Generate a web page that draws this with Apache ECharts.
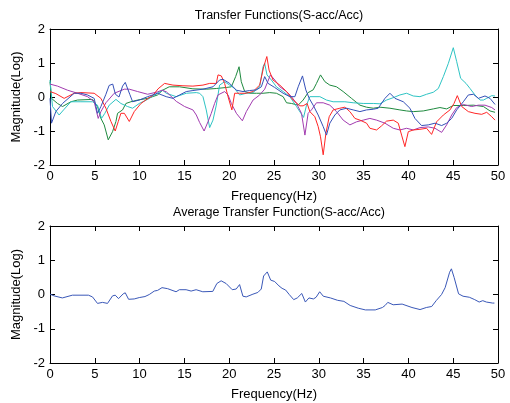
<!DOCTYPE html>
<html><head><meta charset="utf-8">
<script src="https://cdn.jsdelivr.net/npm/echarts@6/dist/echarts.min.js"></script>
<style>html,body{margin:0;padding:0;background:#fff}#c{width:510px;height:403px}</style>
</head><body><div id="c"></div>
<script>
var xTicks = [0,5,10,15,20,25,30,35,40,45,50];
var yTicks = [-2,-1,0,1,2];
var topTitle = 'Transfer Functions(S-acc/Acc)';
var bottomTitle = 'Average Transfer Function(S-acc/Acc)';
var xLabel = 'Frequency(Hz)';
var yLabel = 'Magnitude(Log)';

var blueTF = [[0,-0.04],[0.17,-0.77],[0.65,-0.43],[1.4,-0.19],[2.7,0.11],[3.45,0.11],[4.19,0.06],[4.93,-0.04],[5.3,-0.48],[5.68,-0.28],[6.24,0.08],[6.6,0.34],[7.0,0.38],[7.3,0.08],[7.7,0.0],[8.1,0.32],[8.4,0.43],[8.6,0.4],[8.9,0.08],[9.22,-0.14],[9.96,-0.09],[10.9,0.01],[12.0,0.11],[12.97,0.01],[13.72,-0.04],[14.46,0.06],[15.21,0.16],[15.95,0.19],[17.07,0.23],[18.19,0.3],[18.93,0.5],[19.31,0.52],[20.05,0.4],[20.8,0.2],[21.54,0.16],[22.29,0.19],[23.03,0.21],[23.59,0.3],[23.96,0.6],[24.34,0.4],[25.08,0.28],[25.27,0.23],[26.02,0.11],[26.77,0.01],[27.33,0.01],[27.7,0.3],[28.18,0.62],[28.55,0.21],[28.93,-0.04],[29.37,-0.24],[29.93,-0.53],[30.49,-0.87],[30.86,-1.12],[31.23,-0.77],[31.79,-0.53],[32.35,-0.38],[33.1,-0.33],[33.84,-0.38],[34.59,-0.43],[35.33,-0.38],[36.08,-0.36],[36.63,-0.33],[37.38,-0.04],[37.94,0.11],[38.5,-0.04],[39.43,-0.14],[40.17,-0.33],[40.73,-0.63],[41.47,-0.84],[42.22,-0.82],[42.97,-0.77],[43.71,-0.84],[44.27,-0.77],[44.83,-0.63],[45.39,-0.38],[46.13,-0.14],[46.69,0.06],[47.25,0.08],[47.81,-0.04],[48.55,0.03],[49.11,-0.04],[49.67,-0.22]];
var redTF = [[0,0.16],[0.65,0.1],[1.58,-0.04],[2.7,0.11],[3.45,0.13],[4.93,0.11],[5.68,-0.04],[6.24,-0.33],[6.8,-0.72],[7.28,-1.0],[7.62,-0.72],[7.91,-0.48],[8.3,-0.48],[8.85,-0.72],[9.4,-0.43],[10.15,-0.19],[10.9,-0.05],[11.5,0.05],[12.06,0.24],[12.79,0.4],[13.72,0.35],[14.84,0.33],[15.95,0.32],[17.07,0.35],[17.82,0.4],[18.56,0.4],[18.75,0.65],[19.12,0.62],[19.49,0.4],[19.87,0.01],[20.3,-0.38],[20.61,0.11],[21.17,0.11],[21.91,0.11],[22.66,0.16],[23.4,0.35],[23.85,0.89],[24.2,1.19],[24.45,0.79],[24.89,0.5],[25.65,0.35],[26.4,0.16],[27.14,-0.09],[27.88,-0.26],[28.25,-0.26],[28.7,-0.19],[29,-0.43],[29.56,-0.58],[29.93,-0.87],[30.19,-1.17],[30.49,-1.7],[30.79,-1.07],[31.16,-0.58],[31.6,-0.38],[32.35,-0.33],[32.91,-0.3],[33.47,-0.43],[34.03,-0.63],[34.59,-0.68],[35.33,-0.77],[35.7,-0.92],[36.45,-0.97],[37.0,-0.85],[37.56,-0.71],[38.31,-0.68],[38.87,-0.77],[39.24,-1.12],[39.61,-1.46],[39.99,-1.02],[40.54,-0.97],[41.29,-0.95],[42.03,-0.92],[42.59,-1.1],[43.15,-0.73],[43.9,-0.53],[44.64,-0.38],[45.09,-0.19],[45.46,0.04],[45.95,-0.28],[46.69,-0.43],[47.43,-0.48],[48.18,-0.51],[48.74,-0.45],[49.3,-0.58],[49.67,-0.68]];
var greenTF = [[0,0.45],[0.17,-0.04],[0.84,-0.19],[1.4,-0.28],[2.33,-0.14],[3.07,-0.09],[4.75,-0.07],[5.3,-0.28],[5.68,-0.63],[6.05,-0.82],[6.5,-1.26],[6.98,-1.02],[7.36,-0.72],[7.54,-0.48],[8.1,-0.38],[8.47,-0.19],[9.03,-0.14],[9.78,-0.09],[10.9,-0.04],[12.0,0.06],[12.57,0.2],[13.3,0.3],[14.46,0.3],[15.95,0.24],[17.44,0.23],[18.56,0.25],[19.68,0.28],[20.24,0.3],[20.72,0.6],[21.1,0.89],[21.35,0.45],[21.73,0.16],[22.29,0.11],[23.03,0.11],[23.78,0.11],[24.52,0.13],[25.27,0.11],[26.02,0.01],[26.4,-0.17],[26.95,-0.19],[27.7,-0.24],[28.25,-0.09],[28.81,0.13],[29.37,0.21],[29.74,0.4],[30.19,0.65],[30.68,0.45],[31.23,0.35],[31.98,0.3],[32.72,0.16],[33.65,-0.04],[34.59,-0.24],[35.33,-0.3],[36.08,-0.33],[36.82,-0.3],[37.94,-0.33],[39.05,-0.38],[39.8,-0.41],[40.54,-0.43],[41.66,-0.41],[42.78,-0.35],[43.52,-0.31],[44.27,-0.35],[45.01,-0.25],[46.13,-0.25],[47.25,-0.24],[48.37,-0.28],[49.11,-0.41],[49.67,-0.45]];
var cyanTF = [[0,0.5],[0.28,-0.28],[1.02,-0.53],[1.58,-0.36],[2.33,-0.14],[3.45,-0.14],[4.75,-0.14],[5.3,-0.24],[5.75,-0.63],[6.12,-0.48],[6.61,-0.24],[7.36,-0.07],[7.91,-0.19],[8.66,-0.28],[9.22,-0.33],[9.96,-0.19],[10.9,-0.07],[12.0,0.11],[12.57,0.2],[12.97,0.11],[14.09,0.01],[15.21,0.11],[16.33,0.13],[16.7,0.11],[17.07,0.01],[17.44,-0.38],[17.82,-0.9],[18.19,-0.68],[18.56,-0.24],[18.93,0.35],[19.49,0.45],[20.05,0.35],[20.61,0.25],[21.17,0.06],[21.91,0.11],[22.66,0.13],[23.4,0.3],[23.78,0.89],[23.96,0.99],[24.22,0.65],[24.71,0.5],[25.27,0.3],[26.02,0.16],[26.77,0.01],[27.51,-0.28],[28.3,-0.6],[28.63,-0.24],[29,0.01],[30.12,0.01],[30.86,-0.09],[31.6,-0.14],[32.91,-0.14],[33.84,-0.17],[34.96,-0.19],[36.08,-0.19],[36.82,-0.2],[37.56,-0.09],[38.31,-0.02],[39.05,0.06],[39.8,0.11],[40.54,0.03],[41.29,0.01],[42.03,0.08],[42.78,0.14],[43.34,0.25],[43.9,0.6],[44.46,0.99],[45.01,1.45],[45.39,1.04],[45.83,0.55],[46.43,0.4],[46.88,0.25],[47.43,0.06],[47.99,-0.09],[48.37,-0.09],[48.74,-0.04],[49.3,0.04],[49.67,0.03]];
var purpleTF = [[0,0.38],[0.84,0.32],[1.96,0.2],[3.07,0.11],[4.19,0.01],[4.93,-0.14],[5.38,-0.63],[5.68,-0.43],[6.24,-0.17],[7.17,0.11],[8.29,0.23],[8.85,0.23],[9.78,0.16],[10.9,0.08],[12.0,0.15],[12.5,0.2],[13,0.15],[14.1,-0.13],[15.02,-0.28],[15.95,-0.38],[16.33,-0.53],[16.7,-0.75],[17.2,-1.0],[17.63,-0.73],[18.0,-0.48],[18.37,-0.19],[18.75,0.06],[19.49,0.16],[19.87,0.06],[20.24,-0.19],[20.8,-0.48],[21.47,-0.7],[21.91,-0.43],[22.66,-0.09],[23.4,0.06],[23.96,0.23],[24.3,0.45],[24.6,0.65],[25.09,0.5],[25.65,0.3],[26.4,0.16],[26.95,0.01],[27.51,-0.19],[28.07,-0.48],[28.45,-1.12],[28.81,-0.48],[29.18,-0.38],[29.74,-0.17],[30.49,-0.17],[31.23,-0.24],[31.98,-0.43],[32.72,-0.68],[33.47,-0.82],[34.21,-0.73],[34.96,-0.68],[35.7,-0.63],[36.45,-0.68],[37.38,-0.77],[38.31,-0.92],[39.05,-0.97],[39.8,-0.92],[40.54,-0.97],[41.29,-0.9],[42.22,-0.88],[42.97,-0.92],[43.71,-1.04],[44.27,-0.82],[44.83,-0.53],[45.39,-0.31],[46.13,-0.22],[47.06,-0.28],[47.81,-0.24],[48.55,-0.24],[49.3,-0.31],[49.67,-0.38]];
var avgTF = [[0,0.01],[0.45,-0.04],[1.38,-0.1],[2.5,-0.02],[4.29,-0.02],[4.74,-0.07],[5.3,-0.26],[5.86,-0.23],[6.42,-0.26],[6.98,-0.04],[7.28,-0.02],[7.65,-0.12],[8.17,0.02],[8.4,0.05],[8.77,-0.14],[9.4,-0.13],[9.96,-0.09],[10.6,-0.06],[11.08,0],[11.64,0.1],[12.01,0.12],[12.5,0.2],[13.13,0.17],[14.07,0.08],[14.44,0.14],[15.19,0.14],[15.75,0.1],[16.31,0.14],[17.05,0.08],[18.17,0.09],[18.62,0.32],[19.1,0.4],[19.66,0.32],[20.34,0.14],[20.78,0.16],[21.16,0.29],[21.53,-0.05],[21.9,-0.07],[22.65,0.01],[23.2,0.06],[23.58,0.16],[23.84,0.54],[24.25,0.66],[24.63,0.42],[25.07,0.38],[25.56,0.25],[25.9,0.18],[26.3,0.13],[26.7,0],[27.2,-0.15],[27.6,-0.1],[28.1,0.03],[28.5,-0.22],[28.9,-0.1],[29.4,-0.13],[29.7,-0.08],[30.1,0.08],[30.5,-0.05],[31.3,-0.1],[32.1,-0.17],[32.8,-0.2],[33.5,-0.32],[34.4,-0.4],[35.2,-0.45],[36.3,-0.45],[37.1,-0.38],[37.4,-0.32],[37.7,-0.23],[38.3,-0.3],[39.3,-0.28],[40.4,-0.38],[41.3,-0.44],[42.0,-0.38],[42.6,-0.35],[43.1,-0.18],[43.7,0],[44.1,0.2],[44.6,0.65],[44.8,0.75],[45.1,0.5],[45.6,0.02],[46.1,-0.05],[46.8,-0.08],[47.4,-0.15],[47.9,-0.22],[48.3,-0.18],[48.7,-0.22],[49.4,-0.25],[49.6,-0.25]];

var FONT = '"Liberation Sans", Arial, sans-serif';
var lineStyleAxis = {show:true, onZero:false, lineStyle:{color:'#000', width:1}};
function xAx(gi, pos, labels, name) {
  return {type:'value', gridIndex:gi, position:pos, min:xTicks[0], max:xTicks[xTicks.length-1], interval:5,
    axisLine:lineStyleAxis, axisTick:{show:true, inside:true, length:5, lineStyle:{color:'#000'}},
    axisLabel:{show:labels, color:'#000', fontSize:13, fontFamily:FONT, margin:5},
    splitLine:{show:false}, name:name||'', nameLocation:'middle', nameGap:25,
    nameTextStyle:{color:'#000', fontSize:13, fontFamily:FONT}};
}
function yAx(gi, pos, labels, name) {
  return {type:'value', gridIndex:gi, position:pos, min:yTicks[0], max:yTicks[yTicks.length-1], interval:1,
    axisLine:lineStyleAxis, axisTick:{show:true, inside:true, length:5, lineStyle:{color:'#000'}},
    axisLabel:{show:labels, color:'#000', fontSize:13, fontFamily:FONT, margin:5},
    splitLine:{show:false}, name:name||'', nameLocation:'middle', nameGap:26,
    nameTextStyle:{color:'#000', fontSize:13, fontFamily:FONT}};
}
function ser(data, color, xi, yi) {
  return {type:'line', data:data, xAxisIndex:xi, yAxisIndex:yi, symbol:'none', smooth:false,
    lineStyle:{color:color, width:1}, itemStyle:{color:color}, animation:false, silent:true};
}
var chart = echarts.init(document.getElementById('c'), null, {renderer:'canvas'});
chart.setOption({
  animation:false,
  backgroundColor:'#fff',
  title:[
    {text:topTitle, left:274, top:4, textAlign:'center', textStyle:{fontSize:12.5, fontWeight:'normal', color:'#000', fontFamily:FONT}},
    {text:bottomTitle, left:274, top:201, textAlign:'center', textStyle:{fontSize:12.5, fontWeight:'normal', color:'#000', fontFamily:FONT}}
  ],
  grid:[
    {left:50, top:29, width:448, height:136, show:false},
    {left:50, top:226, width:448, height:137, show:false}
  ],
  xAxis:[xAx(0,'bottom',true,xLabel), xAx(0,'top',false), xAx(1,'bottom',true,xLabel), xAx(1,'top',false)],
  yAxis:[yAx(0,'left',true,yLabel), yAx(0,'right',false), yAx(1,'left',true,yLabel), yAx(1,'right',false)],
  series:[
    ser(greenTF,'#1f8a3f',0,0),
    ser(cyanTF,'#2ec4c4',0,0),
    ser(purpleTF,'#a23cb0',0,0),
    ser(redTF,'#ff2626',0,0),
    ser(blueTF,'#3550b8',0,0),
    ser(avgTF,'#3a58b8',2,2)
  ]
});
</script></body></html>
